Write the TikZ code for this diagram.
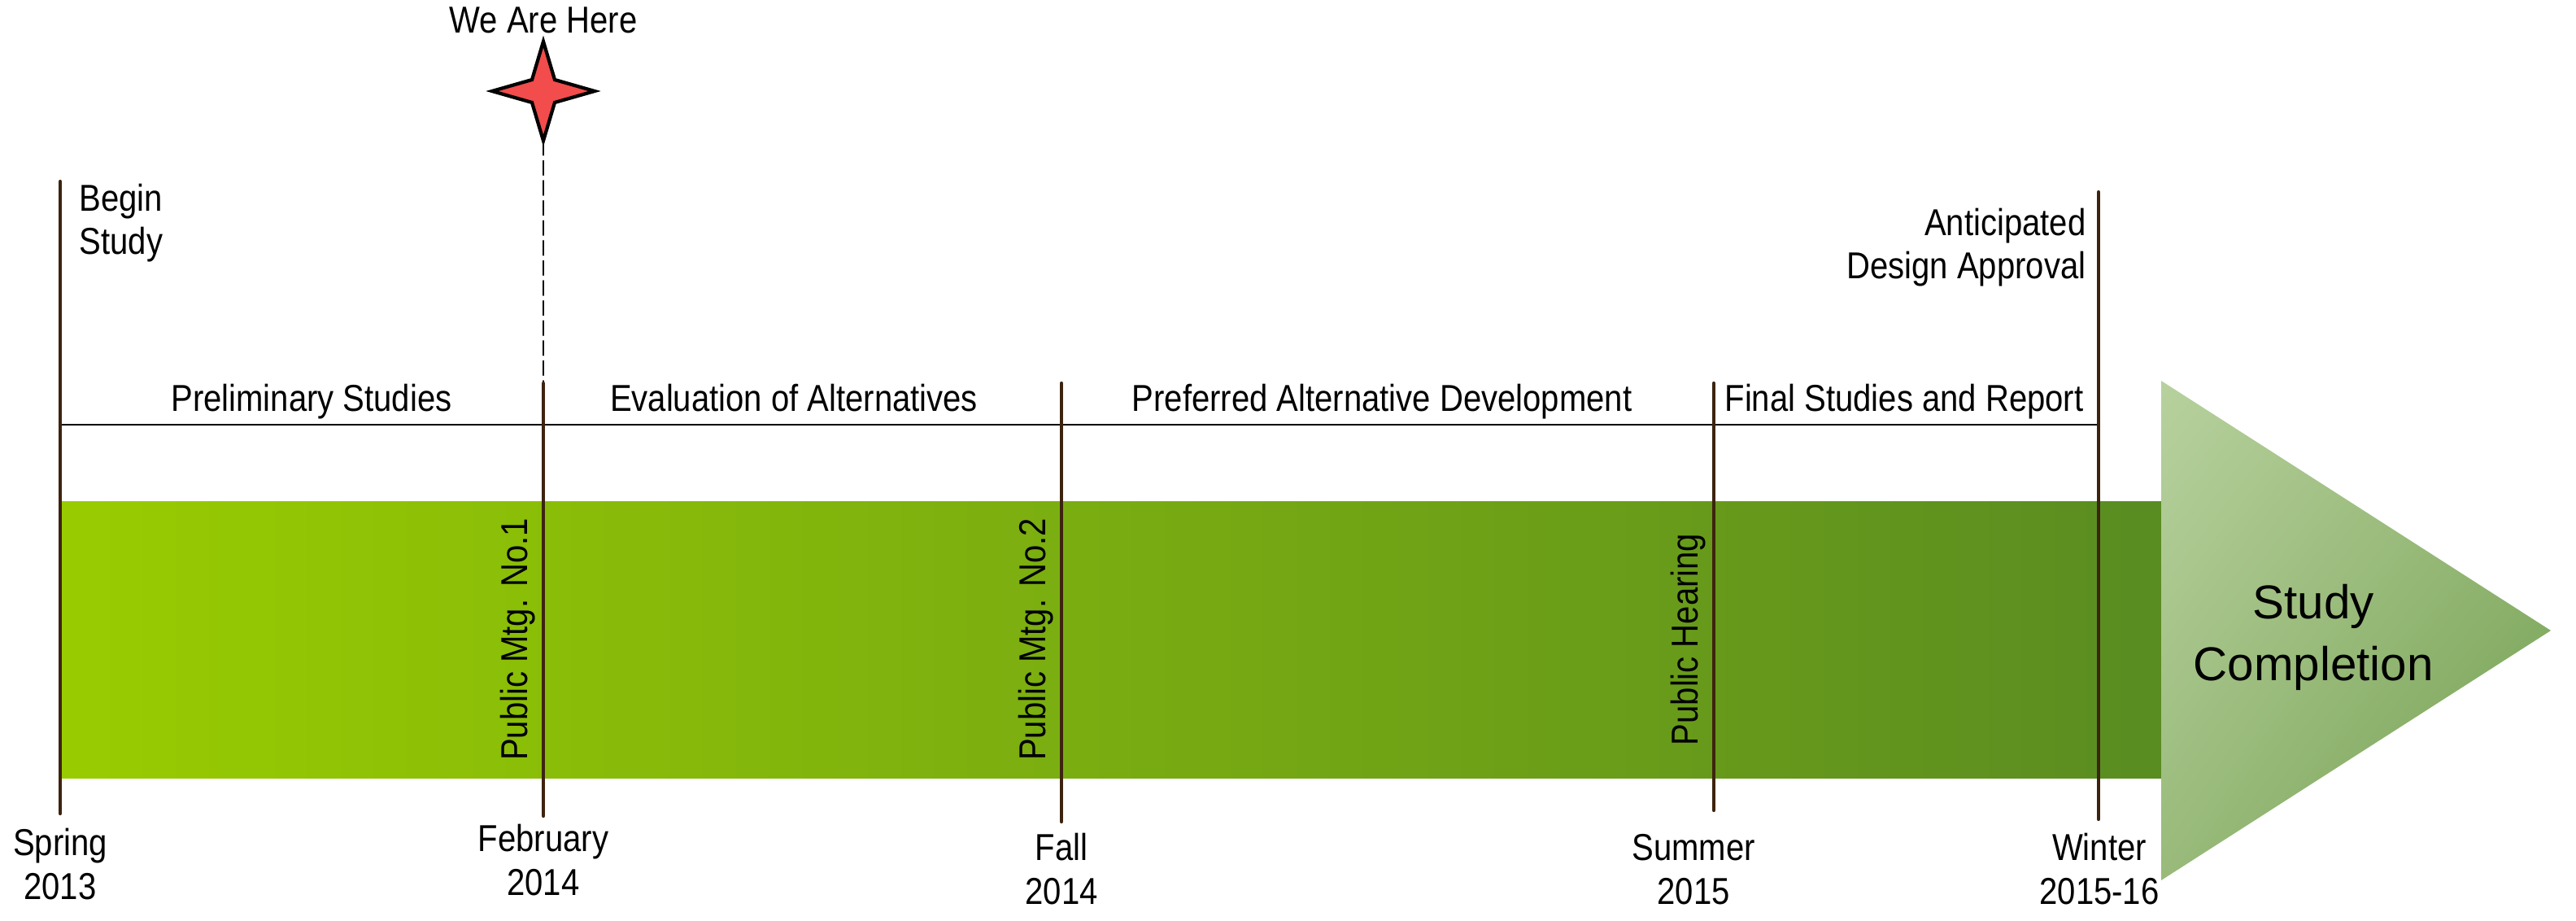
\documentclass[tikz,border=0pt]{standalone}
\usepackage{fontspec}
\setmainfont{Liberation Sans}[FakeStretch=0.87]
\newfontfamily\plainSans{Liberation Sans}
\usepackage{tkz-euclide}
\usetikzlibrary{shadings}
\definecolor{LineClr}{rgb}{0.24,0.14,0.06}
\definecolor{BarStartClr}{rgb}{0.60,0.80,0}
\definecolor{BarEndClr}{rgb}{0.35,0.55,0.13}
\definecolor{StarClr}{rgb}{0.95,0.30,0.30}
\definecolor{TipLightClr}{rgb}{0.72,0.82,0.62}
\definecolor{TipMidClr}{rgb}{0.60,0.73,0.48}
\definecolor{TipDarkClr}{rgb}{0.44,0.62,0.30}
\newcommand{\labelSize}{\fontsize{13.1}{15.1}\selectfont}
\newcommand{\goalSize}{\plainSans\fontsize{16.6}{21.6}\selectfont}

\begin{document}
\begin{tikzpicture}[
  tick/.style={line width=1.2pt,color=LineClr},
  txt/.style={inner sep=0pt,font=\labelSize},
  vtxt/.style={inner sep=0.5mm,font=\labelSize,rotate=90,anchor=south}]
\useasboundingbox (0,0) rectangle (31.67,11.31);

% Points of the time axis.
\tkzDefPoints{0.74/9.08/Sp1,0.74/1.31/Sp2,6.68/6.60/Fb1,6.68/1.28/Fb2,
  13.05/6.60/Fa1,13.05/1.21/Fa2,21.07/6.60/Su1,21.07/1.35/Su2,
  25.80/8.95/Wi1,25.80/1.24/Wi2,6.68/9.58/Dh,0.74/6.09/Hl,25.80/6.09/Hr}
\tkzDefPoints{0.74/1.75/Bl,26.57/5.15/Br,26.57/6.63/Ta,26.57/0.49/Tb,31.36/3.56/Tc}

% Points of the star.
\tkzDefPoints{6.68/10.80/St,7.31/10.19/Sr,6.68/9.58/Sb,6.05/10.19/Sl,
  6.82/10.33/Q1,6.82/10.05/Q2,6.54/10.05/Q3,6.54/10.33/Q4}

% Bar and arrow head.
\shade[left color=BarStartClr,right color=BarEndClr] (Bl) rectangle (Br);
\shade[upper left=TipLightClr,upper right=TipMidClr,lower left=TipMidClr,
  lower right=TipDarkClr] (Ta) -- (Tc) -- (Tb) -- cycle;

\tkzDrawSegment[line width=0.8pt,color=black](Hl,Hr)
\tkzDrawSegment[line width=0.6pt,color=black,dash pattern=on 5pt off 2pt](Dh,Fb1)
\tkzDrawSegments[tick](Sp1,Sp2 Fb1,Fb2 Fa1,Fa2 Su1,Su2 Wi1,Wi2)

\tkzFillPolygon[fill=StarClr](St,Q1,Sr,Q2,Sb,Q3,Sl,Q4)
\tkzDrawPolygon[line width=1.2pt,color=black,line join=miter](St,Q1,Sr,Q2,Sb,Q3,Sl,Q4)

% Texts above the axis.
\node[txt,anchor=base] (here) at (6.68,10.90) {We Are Here};
\node[txt,anchor=base west,align=left] (begin) at (0.97,8.18) {Begin\\Study};
\node[txt,anchor=base east,align=right] (approval) at (25.65,7.88) {Anticipated\\Design Approval};

\node[txt,anchor=base] (prelim) at (3.83,6.25) {Preliminary Studies};
\node[txt,anchor=base] (evalalt) at (9.76,6.25) {Evaluation of Alternatives};
\node[txt,anchor=base] (prefalt) at (16.99,6.25) {Preferred Alternative Development};
\node[txt,anchor=base] (final) at (23.41,6.25) {Final Studies and Report};

% Meetings on the bar.
\node[vtxt] (mtg1) at (6.64,3.45) {Public Mtg. No.1};
\node[vtxt] (mtg2) at (13.01,3.45) {Public Mtg. No.2};
\node[vtxt] (hearing) at (21.03,3.45) {Public Hearing};

% Dates below the axis.
\node[txt,anchor=base,align=center] (spring) at (0.74,0.26) {Spring\\2013};
\node[txt,anchor=base,align=center] (feb) at (6.68,0.31) {February\\2014};
\node[txt,anchor=base,align=center] (fall) at (13.05,0.20) {Fall\\2014};
\node[txt,anchor=base,align=center] (summer) at (20.82,0.20) {Summer\\2015};
\node[txt,anchor=base,align=center] (winter) at (25.81,0.20) {Winter\\2015-16};

\node[inner sep=0pt,font=\goalSize,anchor=base,align=center] (goal) at (28.44,2.95) {Study\\Completion};

\end{tikzpicture}
\end{document}
